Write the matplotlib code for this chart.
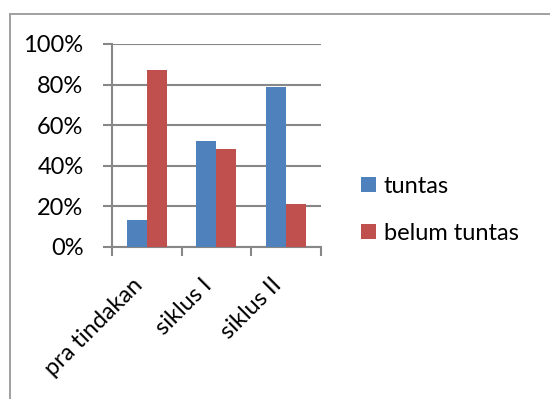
import matplotlib.pyplot as plt
import matplotlib.transforms as mtransforms
from matplotlib.patches import Rectangle
import numpy as np

# data
categories = ["pra tindakan", "siklus I", "siklus II"]
tuntas = [13, 52, 79]
belum_tuntas = [87, 48, 21]
y_ticks = [0, 20, 40, 60, 80, 100]
y_labels = ["0%", "20%", "40%", "60%", "80%", "100%"]

plt.rcParams['font.family'] = ['Lato', 'DejaVu Sans']
fs = 17
grid_col = '#878787'

fig = plt.figure(figsize=(5.5, 3.99), dpi=100)
ax = fig.add_axes([112 / 550, 1 - 246.7 / 399, (320.7 - 112) / 550, (246.7 - 44) / 399])

# outer chart border (runs off right and bottom edges)
fig.patches.append(Rectangle((10 / 550, -0.1), 1.2, 1 - 14 / 399 + 0.1,
                             transform=fig.transFigure, fill=False,
                             edgecolor='#a0a0a0', linewidth=1.4))

x = np.arange(len(categories))
w = 1 / 3.5
ax.bar(x - w / 2, tuntas, w, color='#4F81BD', label='tuntas', zorder=3)
ax.bar(x + w / 2, belum_tuntas, w, color='#C0504D', label='belum tuntas', zorder=3)

ax.set_xlim(-0.5, len(categories) - 0.5)
ax.set_ylim(0, 100)
ax.set_yticks(y_ticks)
ax.set_yticklabels(y_labels, fontsize=fs)
ax.yaxis.grid(True, color=grid_col, linewidth=1.5, zorder=0)
ax.set_axisbelow(True)

ax.set_xticks(x)
ax.set_xticks(np.arange(len(categories) + 1) - 0.5, minor=True)
ax.set_xticklabels(categories, fontsize=fs, rotation=45, ha='right', va='top')
offset = mtransforms.ScaledTranslation(3 / 100, 0, fig.dpi_scale_trans)
for lab in ax.get_xticklabels():
    lab.set_transform(lab.get_transform() + offset)

ax.tick_params(axis='x', which='major', length=0, pad=20)
ax.tick_params(axis='x', which='minor', length=6.5, width=1.5, color=grid_col, direction='out')
ax.tick_params(axis='y', length=6.5, width=1.5, color=grid_col, pad=14)

for s in ['top', 'right']:
    ax.spines[s].set_visible(False)
for s in ['left', 'bottom']:
    ax.spines[s].set_color(grid_col)
    ax.spines[s].set_linewidth(1.5)

ax.legend(loc='center left', bbox_to_anchor=(361 / 550, 1 - 210 / 399),
          bbox_transform=fig.transFigure, frameon=False, fontsize=fs,
          handlelength=0.62, handleheight=0.62, handletextpad=0.35,
          labelspacing=1.1, borderpad=0, borderaxespad=0)

fig.savefig("out.png", dpi=100)
